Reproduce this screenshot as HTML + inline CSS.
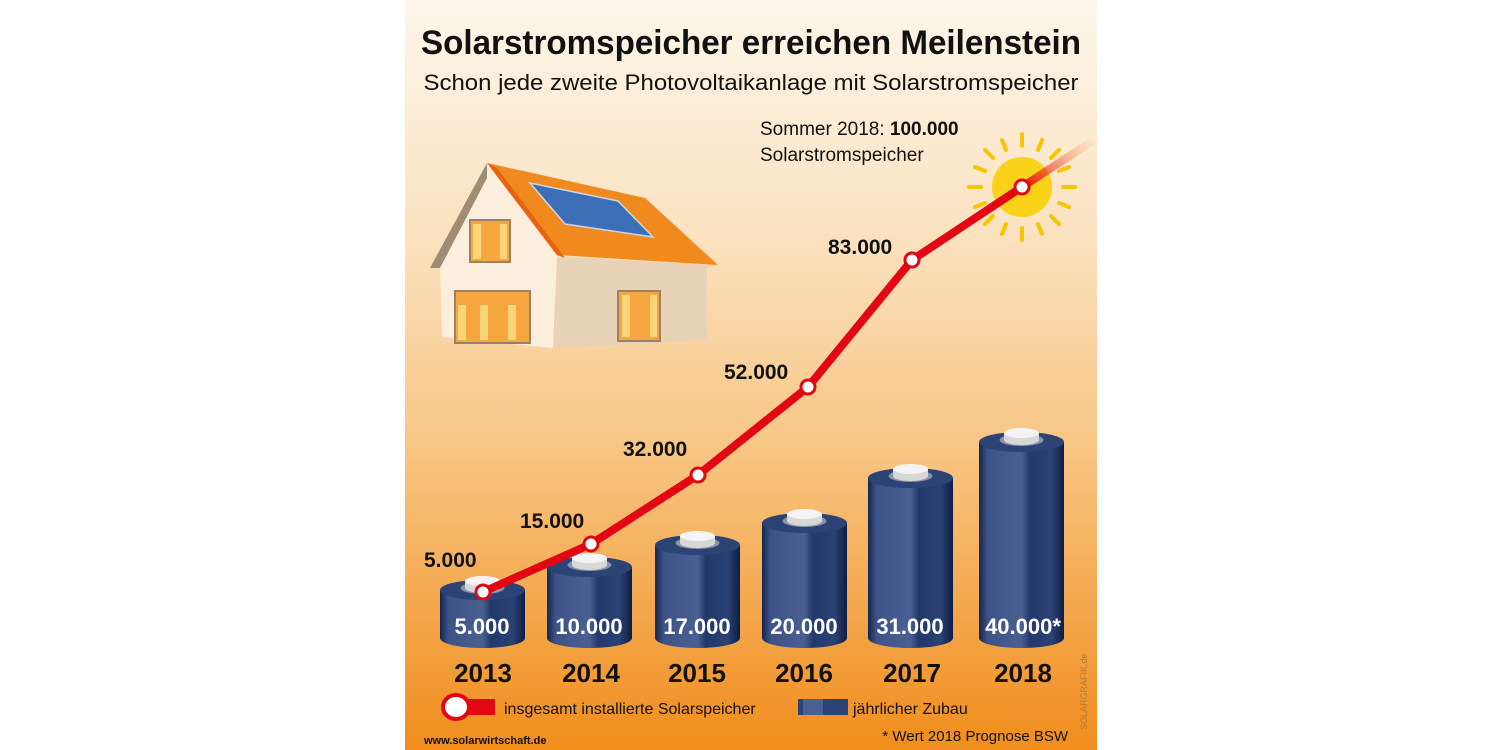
<!DOCTYPE html>
<html><head><meta charset="utf-8"><style>
body{margin:0;width:1500px;height:750px;background:#fff;overflow:hidden}
svg{display:block}
text{font-family:"Liberation Sans",sans-serif}
</style></head><body>
<svg width="1500" height="750" viewBox="0 0 1500 750">
<defs>
<linearGradient id="bg" x1="0" y1="0" x2="0" y2="1">
<stop offset="0" stop-color="#fdf6ea"/><stop offset="0.3" stop-color="#fbe3c2"/><stop offset="0.6" stop-color="#f8c583"/><stop offset="1" stop-color="#f08d1c"/></linearGradient>
<linearGradient id="bat" x1="0" y1="0" x2="1" y2="0">
<stop offset="0" stop-color="#14254f"/><stop offset="0.1" stop-color="#3d5388"/><stop offset="0.5" stop-color="#4a5f92"/><stop offset="0.6" stop-color="#22386a"/><stop offset="0.85" stop-color="#2b4275"/><stop offset="1" stop-color="#0f1d44"/></linearGradient>
<linearGradient id="fade" x1="0" y1="1" x2="1" y2="0"><stop offset="0" stop-color="#e30613"/><stop offset="1" stop-color="#f7a14a" stop-opacity="0"/></linearGradient>
</defs>
<rect x="405" y="0" width="692" height="750" fill="url(#bg)"/>
<text x="751" y="54" text-anchor="middle" font-size="34" font-weight="bold" fill="#111" textLength="660" lengthAdjust="spacingAndGlyphs">Solarstromspeicher erreichen Meilenstein</text>
<text x="751" y="90" text-anchor="middle" font-size="22" fill="#111" textLength="655" lengthAdjust="spacingAndGlyphs">Schon jede zweite Photovoltaikanlage mit Solarstromspeicher</text>
<text x="760" y="135" font-size="19" fill="#111">Sommer 2018: <tspan font-weight="bold">100.000</tspan></text>
<text x="760" y="161" font-size="19" fill="#111">Solarstromspeicher</text>
<!-- house -->
<polygon points="557,257 718,265 707,267 707,340 553,348" fill="#e8d2b8"/>
<polygon points="487,163 557,257 553,348 442,337 440,265" fill="#fbeedd"/>
<polygon points="487,163 430,268 440,268 487,178" fill="#a08c74"/>
<polygon points="487,163 645,198 718,265 557,255" fill="#f18a1e"/>
<polygon points="487,163 557,255 565,258 497,168" fill="#e56312"/>
<polygon points="530,183 618,201 653,237 565,224" fill="#3d6fb6" stroke="#c9d6e6" stroke-width="1.5"/>
<g fill="#f5a63e" stroke="#9a8268" stroke-width="2"><rect x="470" y="220" width="40" height="42"/><rect x="455" y="291" width="75" height="52"/><rect x="618" y="291" width="42" height="50"/></g>
<g fill="#fcd57a"><rect x="473" y="224" width="8" height="35"/><rect x="500" y="224" width="7" height="35"/><rect x="458" y="305" width="8" height="35"/><rect x="480" y="305" width="8" height="35"/><rect x="508" y="305" width="8" height="35"/><rect x="622" y="295" width="8" height="42"/><rect x="650" y="295" width="7" height="42"/></g>
<!-- sun -->
<g stroke="#f9c500" stroke-width="4" stroke-linecap="round">
<line x1="1022" y1="134" x2="1022" y2="146"/><line x1="1022" y1="228" x2="1022" y2="240"/><line x1="969" y1="187" x2="981" y2="187"/><line x1="1063" y1="187" x2="1075" y2="187"/>
<line x1="985" y1="150" x2="993" y2="158"/><line x1="1051" y1="216" x2="1059" y2="224"/><line x1="985" y1="224" x2="993" y2="216"/><line x1="1051" y1="158" x2="1059" y2="150"/>
<line x1="1002" y1="140" x2="1006" y2="150"/><line x1="1038" y1="224" x2="1042" y2="234"/><line x1="975" y1="167" x2="985" y2="171"/><line x1="1059" y1="203" x2="1069" y2="207"/>
<line x1="975" y1="207" x2="985" y2="203"/><line x1="1059" y1="171" x2="1069" y2="167"/><line x1="1002" y1="234" x2="1006" y2="224"/><line x1="1038" y1="150" x2="1042" y2="140"/></g>
<circle cx="1022" cy="187" r="30" fill="#fbd21a"/>
<!-- batteries -->
<g>
<path d="M440,590 v48 a42.5,10 0 0 0 85,0 v-48z" fill="url(#bat)"/><ellipse cx="482.5" cy="590" rx="42.5" ry="10" fill="#2c4376"/><ellipse cx="482.5" cy="588" rx="22" ry="6" fill="#8c95a8"/><path d="M465,581 v7 a17.5,5 0 0 0 35,0 v-7z" fill="#d8d8d8"/><ellipse cx="482.5" cy="581" rx="17.5" ry="5" fill="#f4f4f4"/>
<path d="M547,567 v71 a42.5,10 0 0 0 85,0 v-71z" fill="url(#bat)"/><ellipse cx="589.5" cy="567" rx="42.5" ry="10" fill="#2c4376"/><ellipse cx="589.5" cy="565" rx="22" ry="6" fill="#8c95a8"/><path d="M572,558 v7 a17.5,5 0 0 0 35,0 v-7z" fill="#d8d8d8"/><ellipse cx="589.5" cy="558" rx="17.5" ry="5" fill="#f4f4f4"/>
<path d="M655,545 v93 a42.5,10 0 0 0 85,0 v-93z" fill="url(#bat)"/><ellipse cx="697.5" cy="545" rx="42.5" ry="10" fill="#2c4376"/><ellipse cx="697.5" cy="543" rx="22" ry="6" fill="#8c95a8"/><path d="M680,536 v7 a17.5,5 0 0 0 35,0 v-7z" fill="#d8d8d8"/><ellipse cx="697.5" cy="536" rx="17.5" ry="5" fill="#f4f4f4"/>
<path d="M762,523 v115 a42.5,10 0 0 0 85,0 v-115z" fill="url(#bat)"/><ellipse cx="804.5" cy="523" rx="42.5" ry="10" fill="#2c4376"/><ellipse cx="804.5" cy="521" rx="22" ry="6" fill="#8c95a8"/><path d="M787,514 v7 a17.5,5 0 0 0 35,0 v-7z" fill="#d8d8d8"/><ellipse cx="804.5" cy="514" rx="17.5" ry="5" fill="#f4f4f4"/>
<path d="M868,478 v160 a42.5,10 0 0 0 85,0 v-160z" fill="url(#bat)"/><ellipse cx="910.5" cy="478" rx="42.5" ry="10" fill="#2c4376"/><ellipse cx="910.5" cy="476" rx="22" ry="6" fill="#8c95a8"/><path d="M893,469 v7 a17.5,5 0 0 0 35,0 v-7z" fill="#d8d8d8"/><ellipse cx="910.5" cy="469" rx="17.5" ry="5" fill="#f4f4f4"/>
<path d="M979,442 v196 a42.5,10 0 0 0 85,0 v-196z" fill="url(#bat)"/><ellipse cx="1021.5" cy="442" rx="42.5" ry="10" fill="#2c4376"/><ellipse cx="1021.5" cy="440" rx="22" ry="6" fill="#8c95a8"/><path d="M1004,433 v7 a17.5,5 0 0 0 35,0 v-7z" fill="#d8d8d8"/><ellipse cx="1021.5" cy="433" rx="17.5" ry="5" fill="#f4f4f4"/>
</g>
<g font-size="22" font-weight="bold" fill="#fff" text-anchor="middle">
<text x="482" y="634">5.000</text><text x="589" y="634">10.000</text><text x="697" y="634">17.000</text><text x="804" y="634">20.000</text><text x="910" y="634">31.000</text><text x="1023" y="634">40.000*</text></g>
<!-- line -->
<polyline points="1022,187 1097,138" fill="none" stroke="url(#fade)" stroke-width="8"/>
<polyline points="483,592 591,544 698,475 808,387 912,260 1022,187" fill="none" stroke="#e30613" stroke-width="8" stroke-linejoin="round"/>
<g fill="#fff" stroke="#e30613" stroke-width="3">
<circle cx="483" cy="592" r="7"/><circle cx="591" cy="544" r="7"/><circle cx="698" cy="475" r="7"/><circle cx="808" cy="387" r="7"/><circle cx="912" cy="260" r="7"/><circle cx="1022" cy="187" r="7"/></g>
<g font-size="21" font-weight="bold" fill="#111">
<text x="424" y="567">5.000</text><text x="520" y="528">15.000</text><text x="623" y="456">32.000</text><text x="724" y="379">52.000</text><text x="828" y="254">83.000</text></g>
<g font-size="26" font-weight="bold" fill="#111" text-anchor="middle">
<text x="483" y="682">2013</text><text x="591" y="682">2014</text><text x="697" y="682">2015</text><text x="804" y="682">2016</text><text x="912" y="682">2017</text><text x="1023" y="682">2018</text></g>
<!-- legend -->
<rect x="455" y="699" width="40" height="16" fill="#e30613"/>
<ellipse cx="456" cy="707" rx="13" ry="12" fill="#fff" stroke="#e30613" stroke-width="4"/>
<text x="504" y="714" font-size="16" fill="#111">insgesamt installierte Solarspeicher</text>
<rect x="798" y="699" width="50" height="16" fill="#2c4376"/><rect x="803" y="699" width="20" height="16" fill="#4a5f92"/>
<text x="853" y="714" font-size="16" fill="#111">jährlicher Zubau</text>
<text x="424" y="744" font-size="11" font-weight="bold" fill="#111">www.solarwirtschaft.de</text>
<text x="1068" y="741" font-size="15" fill="#111" text-anchor="end">* Wert 2018 Prognose BSW</text>
<text transform="translate(1087,730) rotate(-90)" font-size="9" fill="#b07a3a">SOLARGRAFIK.de</text>
</svg>
</body></html>
